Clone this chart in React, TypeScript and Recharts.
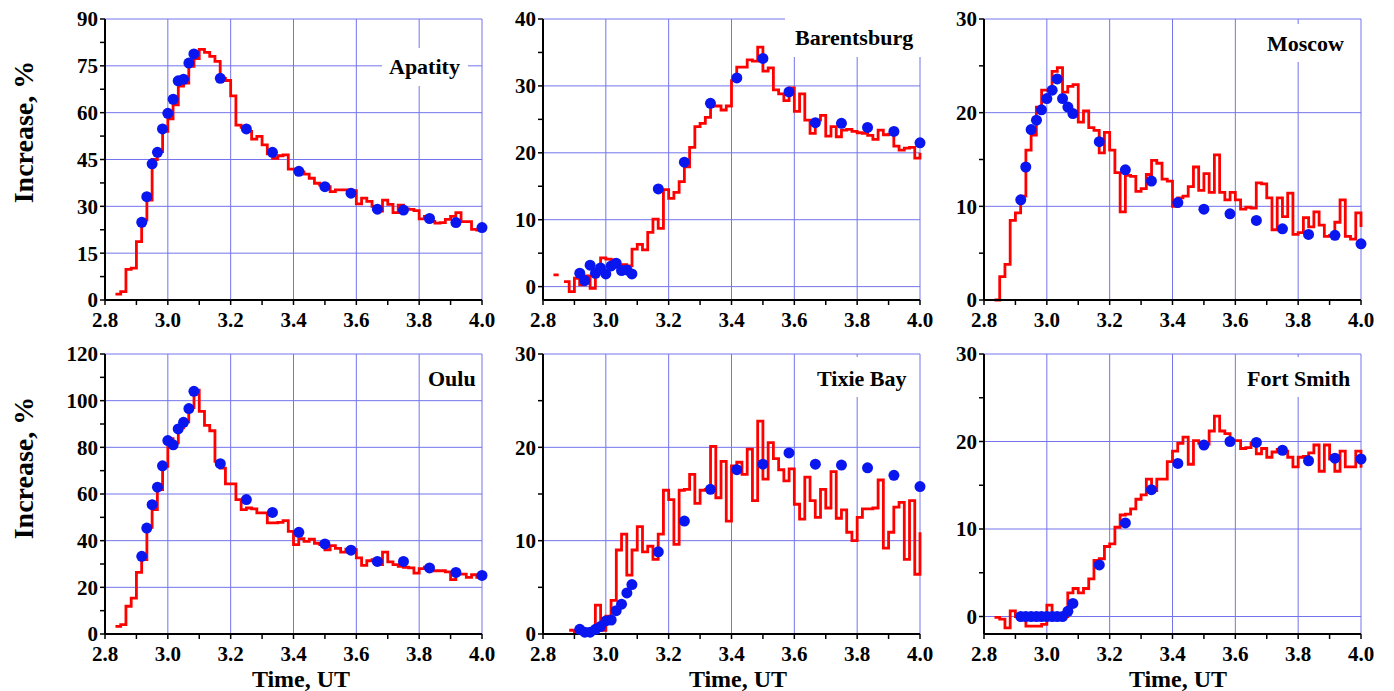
import React from 'react';
import { ComposedChart, Line, Scatter, XAxis, YAxis, CartesianGrid } from 'recharts';

const FONT = '"Liberation Serif", "Times New Roman", serif';
const RED = '#ff0000';
const BLUE = '#0a16f0';
const GRID = '#7474ee';

// time axis (UT hours)
const X_TICKS = [2.8, 2.9, 3.0, 3.1, 3.2, 3.3, 3.4, 3.5, 3.6, 3.7, 3.8, 3.9, 4.0];
const X_LABELS = [2.8, 3.0, 3.2, 3.4, 3.6, 3.8, 4.0];
const X_GRID = [3.0, 3.2, 3.4, 3.6, 3.8, 4.0];

// model points (blue), same times for every station
const DOT_TIMES = [
  2.917, 2.933, 2.95, 2.967, 2.983, 3.0, 3.017, 3.033, 3.05, 3.067, 3.083,
  3.167, 3.25, 3.333, 3.417, 3.5, 3.583, 3.667, 3.75, 3.833, 3.917, 4.0,
];

// 1-min observations (red), first minute given in minutes of the day
const APATITY_START = 170;
const APATITY_RED = [
  1.9, 2.7, 9.8, 10.2, 18.7, 25.6, 32.0, 45.0, 47.5, 54.0,
  58.0, 62.5, 68.5, 69.5, 74.8, 77.3, 80.3, 79.3, 78.0, 76.4,
  71.0, 70.3, 65.4, 56.0, 55.3, 54.0, 51.5, 52.4, 49.7, 46.8,
  45.4, 46.2, 46.5, 41.9, 41.9, 41.0, 40.3, 39.0, 37.4, 36.8,
  36.3, 34.7, 35.3, 35.3, 35.3, 35.0, 30.8, 32.6, 31.6, 30.0,
  28.5, 32.0, 30.6, 28.0, 30.4, 29.2, 29.0, 28.6, 26.0, 26.8,
  25.2, 24.6, 24.8, 25.8, 26.8, 28.0, 25.1, 25.1, 22.6, 22.4,
];
const APATITY_END = 24.0;
const APATITY_DOTS = [
  24.9, 33.1, 43.6, 47.3, 54.8, 59.8, 64.3, 70.2, 70.7, 75.9, 78.8,
  71.0, 54.8, 47.3, 41.2, 36.3, 34.2, 29.1, 28.8, 26.1, 24.8, 23.2,
];

const BARENTSBURG_START = 170;
const BARENTSBURG_RED: (number | null)[] = [
  1.75, null, 0.75, -0.75, 1.25, 0.25, 1.6, -0.25, 2.4, 4.3,
  4.1, 4.0, 3.1, 3.3, 3.1, 5.6, 6.3, 5.5, 8.1, 10.1,
  8.7, 14.5, 13.2, 14.1, 15.7, 17.9, 20.8, 23.9, 24.4, 25.3,
  27.0, 27.0, 26.4, 27.0, 30.8, 32.8, 32.8, 33.9, 33.7, 35.8,
  32.2, 32.7, 29.4, 28.8, 27.8, 29.7, 26.2, 28.8, 24.9, 22.9,
  24.9, 25.6, 22.5, 23.9, 22.4, 23.4, 23.5, 23.2, 23.0, 22.9,
  22.6, 22.0, 23.4, 22.7, 22.8, 21.0, 20.4, 20.7, 20.8, 19.2,
];
const BARENTSBURG_END = 20.0;
const BARENTSBURG_DOTS = [
  2.0, 0.9, 3.2, 2.0, 2.8, 1.9, 3.1, 3.5, 2.4, 2.5, 1.9,
  14.6, 18.6, 27.4, 31.2, 34.1, 29.1, 24.5, 24.4, 23.8, 23.2, 21.5,
];

const MOSCOW_START = 170;
const MOSCOW_RED = [
  0.0, 2.5, 3.8, 8.5, 9.3, 11.1, 16.0, 17.6, 20.6, 22.4,
  22.4, 24.4, 24.8, 22.2, 22.8, 23.0, 19.0, 20.2, 18.4, 18.1,
  15.7, 17.9, 16.0, 13.6, 9.4, 13.3, 13.2, 11.6, 11.9, 13.4,
  14.9, 14.6, 12.9, 12.7, 10.0, 10.9, 11.1, 12.1, 14.2, 11.7,
  13.5, 11.5, 15.5, 11.5, 10.7, 11.5, 10.7, 9.7, 9.9, 9.8,
  12.5, 12.4, 10.9, 7.5, 10.9, 8.9, 11.4, 7.0, 7.2, 8.8,
  7.8, 9.4, 8.0, 6.8, 6.9, 8.3, 10.7, 6.8, 6.5, 9.3,
];
const MOSCOW_END = 7.8;
const MOSCOW_DOTS = [
  10.7, 14.2, 18.2, 19.2, 20.3, 21.5, 22.4, 23.6, 21.5, 20.6, 19.9,
  16.9, 13.9, 12.7, 10.4, 9.7, 9.2, 8.5, 7.6, 7.0, 6.9, 6.0,
];

const OULU_START = 170;
const OULU_RED = [
  3.3, 4.0, 11.9, 15.4, 26.4, 31.9, 45.7, 53.3, 61.9, 71.9,
  83.7, 81.9, 88.3, 90.9, 97.0, 104.5, 95.4, 89.4, 87.1, 74.0,
  71.1, 64.3, 64.3, 57.6, 53.3, 54.0, 53.6, 51.9, 51.9, 47.6,
  47.6, 47.8, 48.6, 44.0, 38.3, 40.9, 39.7, 40.6, 38.9, 38.3,
  36.1, 37.9, 36.7, 35.1, 36.4, 36.1, 32.6, 29.4, 31.4, 31.9,
  29.7, 35.1, 30.9, 29.7, 29.0, 28.6, 28.3, 26.1, 28.0, 28.6,
  27.1, 27.1, 27.1, 26.6, 23.3, 25.7, 25.7, 24.3, 25.4, 24.3,
];
const OULU_END = 26.6;
const OULU_DOTS = [
  33.3, 45.4, 55.4, 62.9, 72.1, 82.9, 81.1, 87.9, 90.7, 96.6, 104.0,
  73.0, 57.6, 52.1, 43.6, 38.6, 35.9, 31.1, 31.1, 28.3, 26.4, 25.1,
];

const TIXIE_START = 173;
const TIXIE_RED = [
  0.4, 0.1, 0.1, 0.1, 0.1, 3.1, 0.4, 1.9, 3.6, 9.0,
  10.7, 6.3, 9.0, 11.5, 8.8, 9.4, 8.0, 10.7, 15.4, 14.4,
  9.6, 15.4, 15.5, 17.1, 14.0, 15.4, 15.5, 20.1, 14.6, 18.5,
  12.1, 18.0, 18.4, 17.1, 19.8, 14.3, 22.8, 16.6, 20.5, 18.8,
  17.6, 16.4, 17.7, 13.9, 12.3, 16.8, 14.3, 12.5, 15.5, 13.5,
  17.4, 12.4, 13.3, 10.9, 10.0, 12.5, 13.4, 13.4, 13.5, 16.5,
  9.2, 10.9, 13.6, 14.1, 8.0, 14.3, 6.4,
];
const TIXIE_END = 10.9;
const TIXIE_DOTS = [
  0.5, 0.2, 0.2, 0.5, 0.8, 1.4, 1.5, 2.5, 3.2, 4.4, 5.3,
  8.8, 12.1, 15.5, 17.6, 18.2, 19.4, 18.2, 18.1, 17.8, 17.0, 15.8,
];

const FORT_SMITH_START = 170;
const FORT_SMITH_RED = [
  -0.1, -0.3, -1.3, 0.65, 0.0, 0.0, -1.1, -1.1, -1.1, -0.9,
  1.3, 0.3, 0.1, 0.0, 2.7, 3.2, 2.7, 3.2, 4.3, 6.4,
  6.6, 8.0, 8.3, 10.2, 11.6, 11.7, 12.3, 13.4, 13.9, 15.7,
  14.4, 15.7, 15.7, 17.7, 18.9, 19.8, 20.5, 17.4, 20.1, 19.8,
  19.7, 21.2, 22.9, 21.2, 20.9, 20.1, 20.1, 19.2, 19.3, 19.8,
  18.6, 19.2, 18.2, 18.8, 19.1, 18.9, 18.2, 17.1, 18.2, 18.3,
  18.7, 19.6, 16.6, 19.6, 18.0, 16.6, 18.9, 17.1, 17.1, 18.9,
];
const FORT_SMITH_END = 17.0;
const FORT_SMITH_DOTS = [
  0, 0, 0, 0, 0, 0, 0, 0, 0, 0.6, 1.5,
  5.9, 10.7, 14.5, 17.5, 19.6, 20.0, 19.9, 19.0, 17.8, 18.1, 18.0,
];

// y scales
const Y_90_TICKS = [0, 7.5, 15, 22.5, 30, 37.5, 45, 52.5, 60, 67.5, 75, 82.5, 90];
const Y_90_LABELS = [0, 15, 30, 45, 60, 75, 90];
const Y_90_GRID = [15, 30, 45, 60, 75, 90];
const Y_40_TICKS = [0, 5, 10, 15, 20, 25, 30, 35, 40];
const Y_40_LABELS = [0, 10, 20, 30, 40];
const Y_40_GRID = [0, 10, 20, 30, 40];
const Y_30_TICKS = [0, 5, 10, 15, 20, 25, 30];
const Y_30_LABELS = [0, 10, 20, 30];
const Y_30_GRID = [10, 20, 30];
const Y_30Z_GRID = [0, 10, 20, 30];
const Y_120_TICKS = [0, 10, 20, 30, 40, 50, 60, 70, 80, 90, 100, 110, 120];
const Y_120_LABELS = [0, 20, 40, 60, 80, 100, 120];
const Y_120_GRID = [20, 40, 60, 80, 100, 120];

type Pt = { t: number; v: number | null };

// stepped trace: each 1-min value is held until the next minute
function stepPoints(startMin: number, vals: (number | null)[], endVal: number): Pt[] {
  const pts: Pt[] = [];
  vals.forEach((v, i) => {
    const t0 = (startMin + i) / 60;
    const t1 = (startMin + i + 1) / 60;
    if (v === null) {
      pts.push({ t: t0, v: null });
      return;
    }
    pts.push({ t: t0, v }, { t: t1, v });
  });
  pts.push({ t: 4.0, v: endVal });
  return pts;
}

const dotPoints = (vals: number[]): Pt[] => vals.map((v, i) => ({ t: DOT_TIMES[i], v }));

type PanelProps = {
  left: number;
  top: number;
  w: number;
  h: number;
  domain: [number, number];
  yTicks: number[];
  yLabels: number[];
  yGrid: number[];
  red: Pt[];
  dots: Pt[];
};

const Y_AXIS_W = 60;
const M_TOP = 12;
const M_RIGHT = 14;
const X_AXIS_H = 38;

const tickStyle = { fill: '#000', fontSize: 21, fontWeight: 'bold' as const, fontFamily: FONT };

function Panel({ left, top, w, h, domain, yTicks, yLabels, yGrid, red, dots }: PanelProps) {
  return (
    <div style={{ position: 'absolute', left: left - Y_AXIS_W, top: top - M_TOP }}>
      <ComposedChart
        width={Y_AXIS_W + w + M_RIGHT}
        height={M_TOP + h + X_AXIS_H}
        margin={{ top: M_TOP, right: M_RIGHT, bottom: 0, left: 0 }}
      >
        <CartesianGrid
          stroke={GRID}
          strokeWidth={1}
          horizontalValues={yGrid}
          verticalValues={X_GRID}
        />
        <XAxis
          dataKey='t'
          type='number'
          domain={[2.8, 4.0]}
          ticks={X_TICKS}
          tickFormatter={(v: number) => (X_LABELS.includes(v) ? v.toFixed(1) : '')}
          interval={0}
          height={X_AXIS_H}
          tickSize={5}
          tickMargin={7}
          axisLine={{ stroke: '#000', strokeWidth: 2 }}
          tickLine={{ stroke: '#000', strokeWidth: 1.5 }}
          tick={tickStyle}
        />
        <YAxis
          dataKey='v'
          type='number'
          domain={domain}
          ticks={yTicks}
          tickFormatter={(v: number) => (yLabels.includes(v) ? String(v) : '')}
          interval={0}
          width={Y_AXIS_W}
          tickSize={5}
          tickMargin={2}
          axisLine={{ stroke: '#000', strokeWidth: 2 }}
          tickLine={{ stroke: '#000', strokeWidth: 1.5 }}
          tick={tickStyle}
        />
        <Line
          data={red}
          dataKey='v'
          type='linear'
          stroke={RED}
          strokeWidth={2.8}
          dot={false}
          activeDot={false}
          isAnimationActive={false}
        />
        <Scatter
          data={dots}
          dataKey='v'
          fill={BLUE}
          isAnimationActive={false}
          shape={(p: any) => <circle cx={p.cx} cy={p.cy} r={5.5} fill={BLUE} />}
        />
      </ComposedChart>
    </div>
  );
}

const TOP_ROW = 19;
const BOTTOM_ROW = 354;
const COLS = [105, 543, 984];
const PLOT_W = 377;

const titleStyle = { fontFamily: FONT, fontWeight: 'bold' as const, fontSize: 22, fill: '#000' };
const axisTitleStyle = { fontFamily: FONT, fontWeight: 'bold' as const, fill: '#000' };

export default function App() {
  return (
    <div style={{ position: 'absolute', left: 0, top: 0, width: 1394, height: 691, background: '#fff' }}>
      <Panel left={COLS[0]} top={TOP_ROW} w={PLOT_W} h={281} domain={[0, 90]}
        yTicks={Y_90_TICKS} yLabels={Y_90_LABELS} yGrid={Y_90_GRID}
        red={stepPoints(APATITY_START, APATITY_RED, APATITY_END)} dots={dotPoints(APATITY_DOTS)} />
      <Panel left={COLS[1]} top={TOP_ROW} w={PLOT_W} h={281} domain={[-2, 40]}
        yTicks={Y_40_TICKS} yLabels={Y_40_LABELS} yGrid={Y_40_GRID}
        red={stepPoints(BARENTSBURG_START, BARENTSBURG_RED, BARENTSBURG_END)} dots={dotPoints(BARENTSBURG_DOTS)} />
      <Panel left={COLS[2]} top={TOP_ROW} w={PLOT_W} h={281} domain={[0, 30]}
        yTicks={Y_30_TICKS} yLabels={Y_30_LABELS} yGrid={Y_30_GRID}
        red={stepPoints(MOSCOW_START, MOSCOW_RED, MOSCOW_END)} dots={dotPoints(MOSCOW_DOTS)} />
      <Panel left={COLS[0]} top={BOTTOM_ROW} w={PLOT_W} h={280} domain={[0, 120]}
        yTicks={Y_120_TICKS} yLabels={Y_120_LABELS} yGrid={Y_120_GRID}
        red={stepPoints(OULU_START, OULU_RED, OULU_END)} dots={dotPoints(OULU_DOTS)} />
      <Panel left={COLS[1]} top={BOTTOM_ROW} w={PLOT_W} h={280} domain={[0, 30]}
        yTicks={Y_30_TICKS} yLabels={Y_30_LABELS} yGrid={Y_30_GRID}
        red={stepPoints(TIXIE_START, TIXIE_RED, TIXIE_END)} dots={dotPoints(TIXIE_DOTS)} />
      <Panel left={COLS[2]} top={BOTTOM_ROW} w={PLOT_W} h={280} domain={[-2, 30]}
        yTicks={Y_30_TICKS} yLabels={Y_30_LABELS} yGrid={Y_30Z_GRID}
        red={stepPoints(FORT_SMITH_START, FORT_SMITH_RED, FORT_SMITH_END)} dots={dotPoints(FORT_SMITH_DOTS)} />

      <svg width={1394} height={691} style={{ position: 'absolute', left: 0, top: 0, pointerEvents: 'none' }}>
        {/* station names on white patches */}
        <rect x={382} y={48} width={86} height={38} fill='#fff' />
        <text x={389} y={74} style={titleStyle}>Apatity</text>
        <rect x={785} y={17} width={140} height={40} fill='#fff' />
        <text x={795} y={45} style={titleStyle}>Barentsburg</text>
        <rect x={1262} y={24} width={90} height={38} fill='#fff' />
        <text x={1267} y={51} style={titleStyle}>Moscow</text>
        <rect x={423} y={361} width={58} height={34} fill='#fff' />
        <text x={428} y={386} style={titleStyle}>Oulu</text>
        <rect x={812} y={357} width={101} height={40} fill='#fff' />
        <text x={817} y={386} style={titleStyle}>Tixie Bay</text>
        <rect x={1242} y={357} width={115} height={40} fill='#fff' />
        <text x={1247} y={386} style={titleStyle}>Fort Smith</text>

        <text transform='translate(33,132) rotate(-90)' textAnchor='middle' style={{ ...axisTitleStyle, fontSize: 28 }}>
          Increase, %
        </text>
        <text transform='translate(33,468) rotate(-90)' textAnchor='middle' style={{ ...axisTitleStyle, fontSize: 28 }}>
          Increase, %
        </text>
        <text x={301} y={687} textAnchor='middle' style={{ ...axisTitleStyle, fontSize: 24 }}>Time, UT</text>
        <text x={738} y={687} textAnchor='middle' style={{ ...axisTitleStyle, fontSize: 24 }}>Time, UT</text>
        <text x={1178} y={687} textAnchor='middle' style={{ ...axisTitleStyle, fontSize: 24 }}>Time, UT</text>
      </svg>
    </div>
  );
}
